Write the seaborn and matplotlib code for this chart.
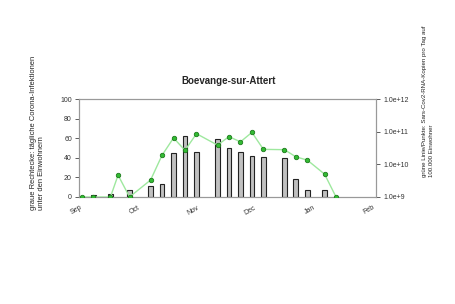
import numpy as np
import pandas as pd
import matplotlib
matplotlib.use("Agg")
import matplotlib.pyplot as plt
import seaborn as sns
from matplotlib.ticker import FixedLocator, NullFormatter

sns.set_style("white")
plt.rcParams['font.family'] = ['Liberation Sans', 'DejaVu Sans']

# days since 1 September
bar_days = [7, 16, 26, 37, 43, 49, 55, 61, 72, 78, 84, 90, 96, 107, 113, 119, 128]
bar_cases = [2, 3, 7, 11, 13, 45, 62, 46, 59, 50, 46, 42, 41, 40, 18, 7, 7]

pt_days = [1, 7, 16, 20, 26, 37, 43, 49, 55, 61, 72, 78, 84, 90, 96, 107, 113, 119, 128, 134]
pt_log = [9.0, 9.0, 9.0, 9.67, 9.0, 9.52, 10.28, 10.81, 10.43, 10.94, 10.59, 10.85,
          10.69, 10.98, 10.46, 10.45, 10.23, 10.13, 9.70, 9.0]

month_days = [0, 30, 61, 91, 122, 153]
month_labels = ["Sep", "Oct", "Nov", "Dec", "Jan", "Feb"]

bars = pd.DataFrame({"day": bar_days, "cases": bar_cases})
pts = pd.DataFrame({"day": pt_days, "copies": [10 ** v for v in pt_log]})

fig = plt.figure(figsize=(4.56, 3.04), dpi=100)
ax = fig.add_axes([0.173, 0.352, 0.652, 0.322])

sns.barplot(data=bars, x="day", y="cases", native_scale=True, width=0.42,
            color="#c0c0c0", edgecolor="#222222", linewidth=0.8, saturation=1, ax=ax)
ax.set_xlim(-0.5, 155)
ax.set_ylim(0, 100)
ax.set_yticks([0, 20, 40, 60, 80, 100])
ax.set_xticks(month_days)
ax.set_xticklabels(month_labels, rotation=30, ha="right", rotation_mode="anchor")
ax.xaxis.set_minor_locator(FixedLocator(list(range(0, 155, 7))))
ax.set_xlabel("")
ax.set_ylabel("")

ax2 = ax.twinx()
sns.lineplot(data=pts, x="day", y="copies", color="#9ee89e", linewidth=1.0,
             marker="o", markersize=3.2, markerfacecolor="#33bb33",
             markeredgecolor="#1c7a1c", markeredgewidth=0.6, ax=ax2, zorder=5)
ax2.set_yscale("log")
ax2.set_ylim(1e9, 1e12)
ax2.set_yticks([1e9, 1e10, 1e11, 1e12])
ax2.set_yticklabels(["1.0e+9", "1.0e+10", "1.0e+11", "1.0e+12"])
ax2.yaxis.set_minor_formatter(NullFormatter())
ax2.tick_params(axis="y", which="minor", length=0)
ax2.set_ylabel("")
ax2.set_xlim(-0.5, 155)

for a in (ax, ax2):
    for s in a.spines.values():
        s.set_color("#999999")
        s.set_linewidth(0.8)
    a.tick_params(axis="both", which="major", labelsize=5, colors="#444444",
                  length=3, width=0.6, pad=2)
ax.tick_params(axis="x", which="minor", length=2, width=0.5, color="#444444")
ax.tick_params(axis="x", which="major", length=3, color="#444444")
for lab in ax.get_xticklabels() + ax.get_yticklabels() + ax2.get_yticklabels():
    lab.set_color("#333333")

fig.text(0.501, 0.735, "Boevange-sur-Attert", ha="center", va="center",
         fontsize=7, fontweight="bold")

fig.text(0.082, 0.31, "graue Rechtecke: tägliche Corona-Infektionen\nunter den Einwohnern",
         rotation=90, ha="center", va="bottom", multialignment="left", fontsize=5.4,
         color="#222222", linespacing=1.15)
fig.text(0.939, 0.418, "grüne Linie/Punkte: Sars-Cov2-RNA-Kopien pro Tag auf\n100.000 Einwohner",
         rotation=90, ha="center", va="bottom", multialignment="left", fontsize=4.4,
         color="#222222", linespacing=1.45)

fig.savefig("out.png", dpi=100)
